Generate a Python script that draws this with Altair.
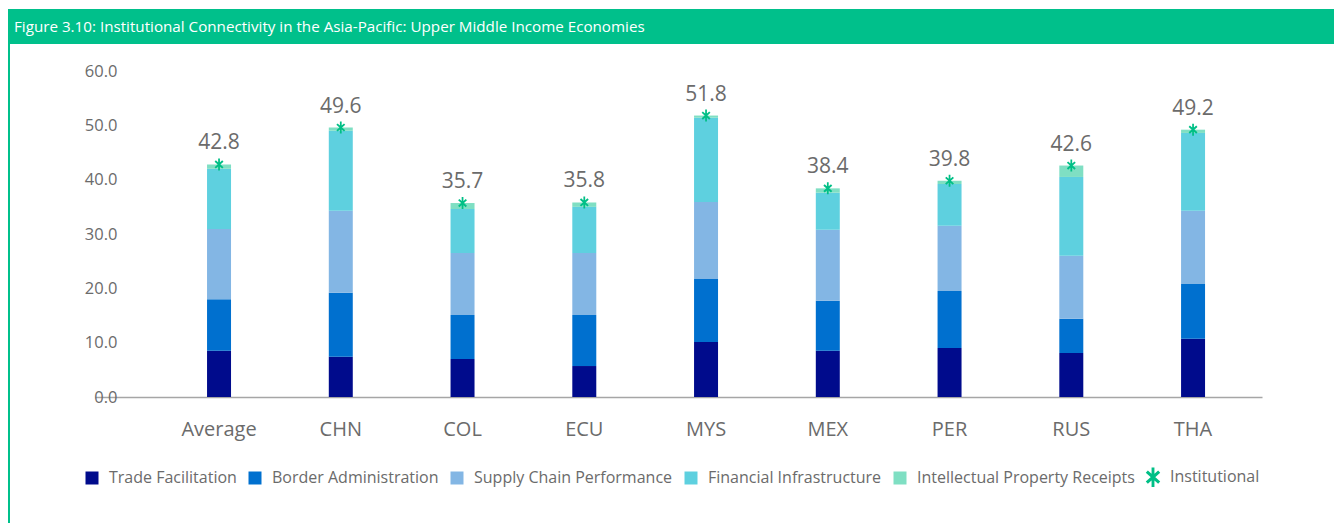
import math
import altair as alt
import pandas as pd

# Economies shown on the x axis
economies = ["Average", "CHN", "COL", "ECU", "MYS", "MEX", "PER", "RUS", "THA"]

# Component scores per economy (stacked bottom to top)
trade_facilitation = [8.5, 7.4, 7.0, 5.7, 10.1, 8.5, 9.0, 8.1, 10.7]
border_administration = [9.5, 11.8, 8.1, 9.4, 11.6, 9.2, 10.5, 6.3, 10.1]
supply_chain = [12.9, 15.1, 11.4, 11.4, 14.2, 13.1, 12.0, 11.6, 13.5]
financial_infra = [11.1, 14.7, 8.1, 8.5, 15.5, 6.8, 7.7, 14.5, 14.3]
ip_receipts = [0.8, 0.6, 1.1, 0.8, 0.4, 0.8, 0.6, 2.1, 0.6]

# Overall institutional connectivity score
institutional = [42.8, 49.6, 35.7, 35.8, 51.8, 38.4, 39.8, 42.6, 49.2]

components = [
    "Trade Facilitation",
    "Border Administration",
    "Supply Chain Performance",
    "Financial Infrastructure",
    "Intellectual Property Receipts",
]
series_names = components + ["Institutional"]
series_colors = ["#000B8C", "#0070CF", "#83B6E4", "#5ED0DF", "#7FDFC3", "#00BF86"]

title_text = ("Figure 3.10: Institutional Connectivity in the Asia-Pacific: "
              "Upper Middle Income Economies")

FONT = "Open Sans"
GREY = "#6b6b6b"


def _segment(x0, y0, x1, y1, w):
    dx, dy = x1 - x0, y1 - y0
    ln = math.hypot(dx, dy)
    nx, ny = -dy / ln * w, dx / ln * w
    pts = [(x0 + nx, y0 + ny), (x1 + nx, y1 + ny), (x1 - nx, y1 - ny), (x0 - nx, y0 - ny)]
    return "M" + "L".join(f"{px:.3f},{py:.3f}" for px, py in pts) + "Z"


# Six-armed asterisk marker as a filled path
asterisk = (_segment(0, -1.5, 0, 1.5, 0.22)
            + _segment(-0.95, -0.85, 0.95, 0.85, 0.24)
            + _segment(0.95, -0.85, -0.95, 0.85, 0.24))
series_shapes = ["square"] * 5 + [asterisk]

rows = []
for name, values in zip(components, [trade_facilitation, border_administration,
                                     supply_chain, financial_infra, ip_receipts]):
    for econ, v in zip(economies, values):
        rows.append({"economy": econ, "series": name, "value": v,
                     "rank": components.index(name)})
bars_df = pd.DataFrame(rows)
totals_df = pd.DataFrame({"economy": economies, "value": institutional,
                          "series": "Institutional",
                          "label": [f"{v:.1f}" for v in institutional]})

x_enc = alt.X("economy:N", sort=economies, title=None,
              scale=alt.Scale(paddingInner=0.803, paddingOuter=0.694, align=0.663),
              axis=alt.Axis(labelAngle=0, labelFont=FONT, labelFontSize=20,
                            labelColor=GREY, ticks=False, tickSize=0, labelPadding=22,
                            domainColor="#a6a6a6", domainWidth=1.5))
y_scale = alt.Scale(domain=[0, 60], nice=False, zero=True)

legend_common = dict(orient="none", direction="horizontal", legendX=-11, legendY=398)
color_enc = alt.Color("series:N", title=None,
                      scale=alt.Scale(domain=series_names, range=series_colors),
                      legend=alt.Legend(**legend_common,
                                        labelFont=FONT, labelFontSize=16,
                                        labelColor=GREY, labelLimit=1000,
                                        symbolSize=169, symbolStrokeWidth=0,
                                        labelOffset=9, columnPadding=10,
                                        symbolOpacity=1))
shape_enc = alt.Shape("series:N", title=None,
                      scale=alt.Scale(domain=series_names, range=series_shapes),
                      legend=alt.Legend(**legend_common))

bars = alt.Chart(bars_df).mark_bar().encode(
    x=x_enc,
    y=alt.Y("value:Q", stack="zero", title=None, scale=y_scale,
            axis=alt.Axis(values=[0, 10, 20, 30, 40, 50, 60], format=".1f",
                          grid=False, domain=False, ticks=False, tickSize=0,
                          labelPadding=0, offset=-22, labelFont=FONT,
                          labelFontSize=16.5, labelColor=GREY)),
    color=color_enc,
    order=alt.Order("rank:Q", sort="ascending"),
)

markers = alt.Chart(totals_df).mark_point(filled=True, opacity=1, size=64, strokeWidth=0).encode(
    x=alt.X("economy:N", sort=economies),
    y=alt.Y("value:Q", scale=y_scale),
    color=color_enc,
    shape=shape_enc,
)

labels = alt.Chart(totals_df).mark_text(
    font=FONT, fontSize=21, color=GREY, baseline="alphabetic", dy=-15
).encode(
    x=alt.X("economy:N", sort=economies),
    y=alt.Y("value:Q", scale=y_scale),
    text="label:N",
)

frame_df = pd.DataFrame({"title": [title_text]})
header = alt.Chart(frame_df).mark_rect(color="#00C08B").encode(
    x=alt.value(-87), x2=alt.value(1239), y=alt.value(-62), y2=alt.value(-27))
left_edge = alt.Chart(frame_df).mark_rect(color="#00C08B").encode(
    x=alt.value(-87), x2=alt.value(-85), y=alt.value(-27), y2=alt.value(452))
header_text = alt.Chart(frame_df).mark_text(
    font=FONT, fontSize=15.2, color="white", align="left", baseline="middle"
).encode(x=alt.value(-81), y=alt.value(-44), text="title:N")

chart = alt.layer(header, left_edge, header_text, bars, markers, labels).resolve_scale(
    color="shared", shape="shared"
).properties(
    width=1167, height=326,
    background="white",
    autosize=alt.AutoSizeParams(type="none"),
    padding={"left": 95, "top": 71, "right": 72, "bottom": 126},
).configure_view(strokeWidth=0, stroke=None)

chart.save("out.html", embed_options={"renderer": "svg", "actions": False})
